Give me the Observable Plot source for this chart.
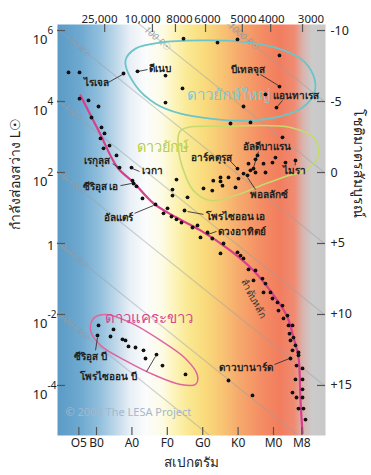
<!DOCTYPE html>
<html><head><meta charset="utf-8">
<script src="https://cdn.jsdelivr.net/npm/d3@7"></script>
<script src="https://cdn.jsdelivr.net/npm/@observablehq/plot@0.6"></script>
<style>body{margin:0;background:#fff} svg{display:block}</style>
</head><body><div id="chart"></div>
<script>
// ---- axis ticks ----
const spectralClasses = ["O5","B0","A0","F0","G0","K0","M0","M8"];
const spectralPos = [5,10,20,30,40,50,60,68];
const tempLabels = ["25,000","10,000","8000","6000","5000","4000","3000"];
const tempPos = [12.3,25.8,32.3,40.8,51.2,59.2,68.2];
const tempLabelPos = [10.85,23.0,33.45,41.36,51.53,59.44,70.6];
const lumExponents = [6,4,2,0,-2,-4];
const magnitudeTicks = [-10,-5,0,5,10,15];
const magnitudeLabels = ["-10","-5","0","+5","+10","+15"];

// ---- stars (x = spectral index, y = log10 L/Lsun) ----
const supergiantX = [34.58,44.18,49.83,61.69,2.09,5.20,17.63,21.58,29.49,34.29,29.49,61.69,57.74,51.53,60.85,47.85,53.50];
const supergiantL = [5.77,5.66,5.75,5.30,4.82,4.82,4.79,4.85,4.73,4.37,3.97,4.42,4.20,3.86,3.83,3.38,3.41];
const giantX = [32.60,31.47,31.47,35.71,40.23,42.71,42.99,45.03,45.03,45.59,47.29,49.27,49.83,50.11,51.53,52.66,52.94,53.50,54.92,54.92,54.35,57.18,57.74,59.72,60.56,62.54,63.39,66.21,55.48];
const giantL = [1.80,1.52,1.35,1.30,1.55,1.49,1.77,1.86,1.75,1.63,1.86,1.58,2.11,1.83,1.97,1.92,2.25,2.06,2.37,2.00,2.11,2.25,2.00,2.28,2.42,2.99,2.28,2.34,2.48];
const mainSeqX = [5.20,7.74,10.56,8.59,11.41,12.26,11.13,13.67,11.98,15.65,16.50,19.89,20.17,20.45,21.30,22.99,26.67,28.93,30.06,31.19,32.60,34.01,34.86,37.12,38.53,41.36,39.38,42.71,45.88,45.03,49.83,50.68,51.53,52.94,54.92,54.35,56.89,57.74,57.18,59.15,59.72,61.13,61.41,62.54,62.82,63.95,64.24,65.37,64.52,65.65,64.80,66.21,67.06,65.37,64.80,67.06,66.50,68.19,66.21,68.19,65.37,68.19,66.50,68.19,67.06,68.47,69.04,54.07,47.29];
const mainSeqL = [4.08,4.03,3.86,3.55,3.27,3.10,2.96,2.76,2.68,2.48,2.14,2.14,1.77,1.69,1.61,1.27,1.10,0.85,0.99,0.76,0.68,0.59,0.93,0.45,0.51,0.31,0.17,0.14,0,-0.28,-0.25,-0.34,-0.42,-0.73,-0.76,-1.04,-0.99,-1.13,-1.38,-1.38,-1.55,-1.66,-1.89,-1.75,-2.11,-2.03,-2.31,-2.31,-2.54,-2.65,-2.73,-2.87,-3.07,-3.01,-3.24,-3.15,-3.44,-3.52,-3.83,-3.83,-4.20,-4.11,-4.34,-4.34,-4.65,-4.65,-4.96,-4.28,-3.86];
const dwarfX = [10.56,14.80,10.28,13.95,17.34,18.19,19.04,21.02,23.28,23.84,26.95,28.64,35.14];
const dwarfL = [-2.31,-2.42,-2.59,-2.62,-2.70,-2.73,-2.90,-2.93,-3.01,-3.24,-3.13,-3.44,-3.69];

// ---- main sequence curve ----
const msCurveX = [5.48,10.56,15.93,20.45,26.10,32.60,39.38,47.85,54.35,61.13,63.95,65.65,67.06,67.63,68.19];
const msCurveL = [4.17,3.18,2.14,1.72,1.13,0.73,0.37,-0.20,-0.76,-1.61,-2.08,-2.65,-3.21,-4.42,-5.35];

// ---- region outlines ----
const supergiantRegionX = [18.19,21.02,28.08,39.38,50.68,60.56,67.63,71.30,71.58,68.19,61.98,52.09,42.20,33.73,26.67,21.02];
const supergiantRegionL = [5.15,5.49,5.66,5.72,5.69,5.52,5.21,4.73,4.25,3.83,3.58,3.46,3.52,3.66,3.94,4.45];
const giantRegionX = [33.73,47.85,64.80,71.58,72.71,69.04,63.39,56.33,49.27,42.20,37.40,34.58,33.16];
const giantRegionL = [3.18,3.30,3.27,2.96,2.48,2.06,1.89,1.63,1.35,1.21,1.49,2.06,2.68];
const dwarfRegionX = [9.15,12.54,19.60,28.08,35.14,38.53,37.97,33.73,26.67,18.19,11.13,8.31];
const dwarfRegionL = [-2.11,-2.00,-2.23,-2.73,-3.24,-3.72,-3.97,-3.97,-3.72,-3.30,-2.87,-2.45];

// ---- constant-radius lines ----
const radii = [1000,100,10,1,0.1,0.01,0.001];
const radiusLabels = ["1000 R☉","100 R☉","10 R☉","1 R☉","0.1 R☉","0.01 R☉","0.001 R☉"];
const radiusLabelX = [51.53,27.23,5.20,3.22,3.50,3.79,3.50];

// ---- star name labels ----
const labelNames = ["ไรเจล","ดีเนบ","บีเทลจุส","แอนทาเรส","อัลดีบาแรน","อาร์คตุรุส","ไมรา","พอลลักซ์","เรกุลุส","เวกา","ซีริอุส เอ","อัลแตร์","โพรไซออน เอ","ดวงอาทิตย์","ซีริอุส บี","โพรไซออน บี","ดาวบานาร์ด"];
const labelX = [6.33,24.69,52.66,59.72,58.03,42.4,65.93,58.59,13.95,22.71,16.21,20.17,40.79,44.46,8.31,13.39,52.09];
const labelY = [4.54,4.93,4.90,4.17,2.73,2.42,2.06,1.38,2.34,2.06,1.61,0.73,0.76,0.34,-3.18,-3.77,-3.49];
const labelAnchor = ["start","start","middle","start","middle","middle","middle","middle","end","start","end","end","start","start","middle","middle","middle"];
const leaderX1 = [13.39,24.41,56.33,62.54,55.76,47.6,66.10,54.92,14.55,22.15,16.78,20.76,40.23,43.90,9.72,24.13,60.28];
const leaderY1 = [4.54,4.90,4.76,4.03,2.59,2.34,2.20,1.52,2.25,2.03,1.63,0.85,0.82,0.34,-3.01,-3.61,-3.41];
const leaderX2 = [17.34,21.86,61.41,61.13,54.35,49.83,66.21,52.66,16.21,20.17,19.89,26.10,35.71,41.36,10.28,26.67,64.52];
const leaderY2 = [4.76,4.85,4.45,3.86,2.14,2.11,2.31,1.86,2.14,2.11,1.69,1.07,0.90,0.25,-2.65,-3.18,-3.24];

// ---- styles ----
const FONT = "'Noto Sans', 'Open Sans', 'DejaVu Sans', sans-serif";
const xDomain = [-1.02, 74.69];
const yDomain = [-5.41, 6.17];
const gradOffsets = [0,0.086,0.16,0.22,0.27,0.33,0.39,0.44,0.49,0.55,0.61,0.68,0.76,0.83,0.885,0.915,0.95,1];
const gradColors = ["#5b9bc6","#6ea9d0","#93c0dd","#c0d9ea","#e8eff6","#fbfcfc","#fdfbe6","#fcf3b6","#fae891","#f9db7c","#f8c674","#f6a86c","#f48d64","#f27d5e","#ef8c74","#d9b3ad","#cbcbcb","#c8c8c8"];

const radiusLine = (r, x) => 3.69 + 2 * Math.log10(r) - 0.08 * (x - 3.22);
const radiusPts = radii.flatMap(r => xDomain.map(x => ({r, x, y: radiusLine(r, x)})));
const idx = d3.range(labelNames.length);
const tickLenY = 8 / 35.5, tickLenX = 8 / 3.54;
const toLogL = m => (5 - m) / 2.5;
const exps = lumExponents.filter(e => e !== 0);

const svg = Plot.plot({
  width: 371, height: 475,
  marginLeft: 57, marginRight: 46, marginTop: 24, marginBottom: 40,
  style: {fontFamily: FONT, background: "#fff"},
  x: {domain: xDomain, axis: null},
  y: {domain: yDomain, axis: null},
  marks: [
    Plot.frame({fill: "url(#hrbg)", stroke: "none"}),
    Plot.line(radiusPts, {x: "x", y: "y", z: "r", stroke: "#9aa0a6", strokeOpacity: 0.45, strokeWidth: 1.2, clip: true}),
    Plot.text(radiusLabels, {x: radiusLabelX, y: radiusLabelX.map((x, i) => radiusLine(radii[i], x)), rotate: 40, fill: "#8f9aa5", fontSize: 9.5, fontStyle: "italic", fillOpacity: 0.9}),
    Plot.text(["© 2008 The LESA Project"], {x: [1.24], y: [-4.76], textAnchor: "start", fill: "#a4b8cb", fontSize: 11}),
    Plot.line(supergiantRegionX, {x: supergiantRegionX, y: supergiantRegionL, curve: "catmull-rom-closed", stroke: "#6cc5c9", strokeWidth: 1.8}),
    Plot.line(giantRegionX, {x: giantRegionX, y: giantRegionL, curve: "catmull-rom-closed", stroke: "#c6da6e", strokeWidth: 1.6}),
    Plot.line(dwarfRegionX, {x: dwarfRegionX, y: dwarfRegionL, curve: "catmull-rom-closed", stroke: "#e0649f", strokeWidth: 1.5}),
    Plot.line(msCurveX, {x: msCurveX, y: msCurveL, curve: "catmull-rom", stroke: "#d6408c", strokeWidth: 2.2}),
    Plot.text(["ดาวยักษ์ใหญ่"], {x: [47.29], y: [4.17], fill: "#78cbd4", fontSize: 15}),
    Plot.text(["ดาวยักษ์"], {x: [28.9], y: [2.70], fill: "#b7cd44", fontSize: 14.5}),
    Plot.text(["ดาวแคระขาว"], {x: [24.69], y: [-2.11], fill: "#d9468e", fontSize: 15}),
    Plot.text(["ลำดับหลัก"], {x: [54.35], y: [-1.55], rotate: 62, fill: "#333", fontSize: 10}),
    Plot.link(idx, {x1: i => leaderX1[i], y1: i => leaderY1[i], x2: i => leaderX2[i], y2: i => leaderY2[i], stroke: "#333", strokeWidth: 0.9}),
    Plot.dot(supergiantX, {x: supergiantX, y: supergiantL, r: 1.9, fill: "#111"}),
    Plot.dot(giantX, {x: giantX, y: giantL, r: 1.9, fill: "#111"}),
    Plot.dot(mainSeqX, {x: mainSeqX, y: mainSeqL, r: 1.9, fill: "#111"}),
    Plot.dot(dwarfX, {x: dwarfX, y: dwarfL, r: 1.9, fill: "#111"}),
    ...["start", "middle", "end"].map(a => Plot.text(idx, {filter: i => labelAnchor[i] === a, x: i => labelX[i], y: i => labelY[i], text: i => labelNames[i], textAnchor: a, fill: "#222", fontSize: 10, fontWeight: 600})),
    // ticks (drawn inward)
    Plot.ruleX(spectralPos, {x: d => d, y1: yDomain[0], y2: yDomain[0] + tickLenY, stroke: "#555", strokeWidth: 1.2}),
    Plot.ruleX(tempPos, {x: d => d, y1: yDomain[1], y2: yDomain[1] - tickLenY, stroke: "#555", strokeWidth: 1.2}),
    Plot.ruleY(lumExponents, {y: d => d, x1: xDomain[0], x2: xDomain[0] + tickLenX, stroke: "#555", strokeWidth: 1.2}),
    Plot.ruleY(magnitudeTicks, {y: toLogL, x1: xDomain[1] - tickLenX, x2: xDomain[1], stroke: "#555", strokeWidth: 1.2}),
    // tick labels
    Plot.text(spectralPos, {x: d => d, text: (d, i) => spectralClasses[i], frameAnchor: "bottom", dy: 11, fontSize: 12, fill: "#222"}),
    Plot.text(tempLabelPos, {x: d => d, text: (d, i) => tempLabels[i], frameAnchor: "top", dy: -10, fontSize: 11.5, letterSpacing: "-0.3px", fill: "#222"}),
    Plot.text(exps, {y: d => d, text: () => "10", frameAnchor: "left", dx: -10, dy: 9, textAnchor: "end", fontSize: 13, fill: "#222"}),
    Plot.text(exps, {y: d => d, text: d => String(d), frameAnchor: "left", dx: -10, dy: 0, textAnchor: "start", fontSize: 10, fill: "#222"}),
    Plot.text([0], {y: d => d, text: () => "1", frameAnchor: "left", dx: -3, dy: 2, textAnchor: "end", fontSize: 13, fill: "#222"}),
    Plot.text(magnitudeTicks, {y: toLogL, text: (d, i) => magnitudeLabels[i], frameAnchor: "right", dx: 5, textAnchor: "start", fontSize: 12.5, fill: "#222"}),
    // axis titles
    Plot.text(["สเปกตรัม"], {frameAnchor: "bottom", dy: 31, fontSize: 13.5, fill: "#222"}),
    Plot.text(["กำลังส่องสว่าง L☉"], {frameAnchor: "left", dx: -42, rotate: -90, fontSize: 14, fill: "#222"}),
    Plot.text(["โชติมาตรสัมบูรณ์"], {frameAnchor: "right", dx: 33, dy: -12, rotate: 90, fontSize: 14, fill: "#222"})
  ]
});

const defs = document.createElementNS("http://www.w3.org/2000/svg", "defs");
defs.innerHTML = `<linearGradient id="hrbg" x1="0" x2="1" y1="0" y2="0">${gradOffsets.map((o, i) => `<stop offset="${o}" stop-color="${gradColors[i]}"/>`).join("")}</linearGradient>`;
svg.insertBefore(defs, svg.firstChild);
document.getElementById("chart").appendChild(svg);
</script>
</body></html>
